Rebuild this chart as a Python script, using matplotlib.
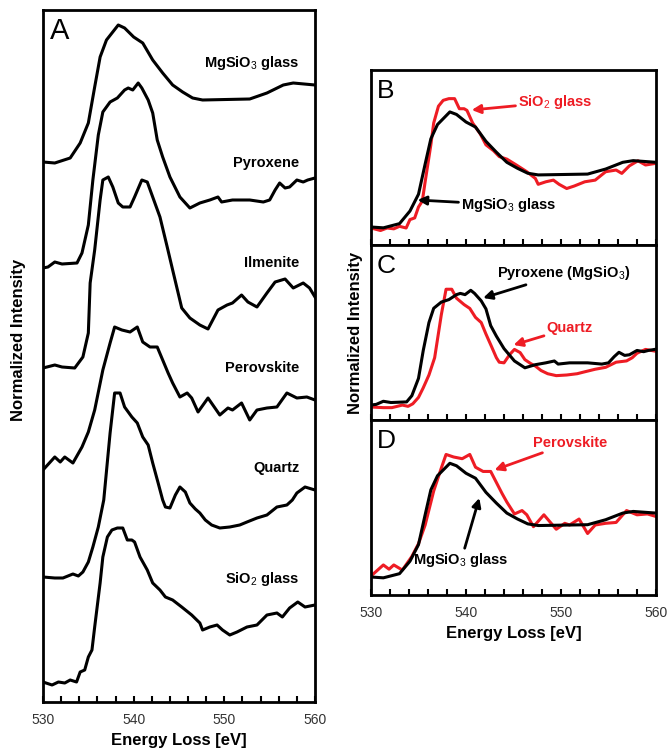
import matplotlib
matplotlib.use("Agg")
import matplotlib.pyplot as plt
from matplotlib.ticker import MultipleLocator

plt.rcParams['font.family'] = ['Liberation Sans', 'DejaVu Sans']
plt.rcParams['mathtext.fontset'] = 'custom'
plt.rcParams['mathtext.bf'] = 'Liberation Sans:bold'
plt.rcParams['mathtext.rm'] = 'Liberation Sans'

RED = '#ee1c24'

# O K-edge spectra (energy in eV, intensity in a.u. above pre-edge)
mgsio3_glass_e = [530.0, 531.3, 533.0, 534.1, 535.0, 535.7, 536.3, 537.0, 538.3, 539.0, 540.0, 541.0,
                  542.1, 543.2, 544.3, 545.4, 546.5, 547.6, 552.8, 554.7, 556.5, 557.6, 560.0]
mgsio3_glass_i = [0, -1, 4, 19, 39, 75, 105, 122, 137, 134, 125, 119,
                  102, 89, 77, 70, 64, 62, 63, 69, 77, 79, 77]

pyroxene_e = [530.0, 530.55, 531.3, 532.1, 533.75, 534.3, 535.0, 535.5, 536.1, 536.6, 537.4, 538.2,
              539.0, 539.4, 539.9, 540.5, 540.9, 541.6, 542.1, 542.6, 543.2, 544.0, 545.1, 546.2,
              547.3, 548.4, 549.3, 549.7, 550.9, 552.8, 554.3, 555.0, 555.6, 556.1, 556.7, 557.2,
              558.0, 558.7, 559.2, 560.0]
pyroxene_i = [0, 1, 6, 4, 5, 15, 43, 88, 133, 156, 166, 170,
              178, 180, 178, 185, 180, 168, 155, 128, 111, 91, 71, 60,
              65, 68, 71, 66, 68, 68, 66, 68, 78, 85, 80, 81,
              88, 86, 88, 90]

ilmenite_e = [530.0, 531.3, 532.1, 533.5, 534.4, 535.0, 535.2, 535.7, 536.3, 536.6, 537.2, 537.7,
              538.3, 538.8, 539.6, 540.1, 540.9, 541.5, 542.1, 542.9, 543.7, 544.3, 545.3, 546.2,
              547.3, 548.2, 549.3, 550.3, 550.9, 551.9, 552.6, 553.6, 554.7, 555.6, 556.7, 557.6,
              558.7, 559.4, 560.0]
ilmenite_i = [0, 3, 1, 0, 11, 35, 85, 118, 168, 188, 191, 181,
              165, 161, 161, 171, 188, 186, 171, 151, 121, 98, 60, 50,
              43, 39, 58, 63, 65, 73, 66, 61, 75, 86, 89, 80,
              85, 80, 71]

perovskite_e = [530.0, 531.3, 531.9, 532.4, 533.3, 534.3, 535.0, 535.7, 536.6, 537.4, 537.9, 538.7,
                539.6, 540.4, 541.0, 541.8, 542.6, 543.2, 543.8, 544.3, 545.1, 545.9, 546.4, 547.1,
                548.2, 549.5, 550.4, 550.9, 551.9, 552.8, 553.6, 554.7, 555.8, 556.9, 558.0, 559.1,
                560.0]
perovskite_i = [0, 13, 8, 13, 7, 23, 38, 60, 100, 127, 143, 140,
                138, 143, 128, 123, 123, 110, 97, 87, 73, 77, 72, 58,
                72, 55, 62, 60, 67, 50, 60, 62, 63, 77, 72, 73,
                70]

quartz_e = [530.0, 531.3, 532.2, 533.3, 533.9, 534.4, 535.0, 535.5, 536.1, 536.7, 537.4, 537.9,
            538.5, 539.0, 539.8, 540.4, 541.0, 541.6, 542.1, 542.7, 543.2, 543.5, 544.0, 544.6,
            545.1, 545.7, 546.2, 546.8, 547.3, 547.9, 548.6, 549.5, 550.6, 551.7, 552.5, 553.6,
            554.7, 555.8, 556.9, 557.5, 558.0, 558.9, 560.0]
quartz_i = [0, -1, -1, 3, 1, 5, 15, 30, 50, 77, 144, 184,
            184, 170, 160, 154, 140, 132, 114, 94, 77, 70, 69, 82,
            90, 85, 74, 68, 64, 57, 52, 49, 50, 52, 55, 59,
            62, 70, 72, 77, 84, 90, 87]

sio2_glass_e = [530.0, 531.0, 531.7, 532.4, 533.0, 533.7, 534.1, 534.6, 535.0, 535.4, 535.7, 536.3,
                536.6, 537.1, 537.6, 538.2, 538.8, 539.3, 539.8, 540.1, 540.7, 541.5, 542.1, 542.9,
                543.5, 544.3, 545.3, 546.4, 547.3, 547.6, 548.4, 549.2, 549.8, 550.6, 551.4, 552.5,
                553.6, 554.7, 555.8, 556.4, 557.2, 558.1, 558.9, 560.0]
sio2_glass_i = [0, -3, 0, -1, 2, 0, 10, 12, 25, 32, 55, 99,
                125, 145, 152, 154, 154, 142, 142, 140, 125, 112, 99, 92,
                85, 82, 75, 67, 59, 52, 55, 57, 52, 47, 50, 55,
                57, 67, 69, 65, 74, 80, 75, 77]

names_a = ['MgSiO$_3$ glass', 'Pyroxene', 'Ilmenite', 'Perovskite', 'Quartz', 'SiO$_2$ glass']
spectra_a = [(mgsio3_glass_e, mgsio3_glass_i), (pyroxene_e, pyroxene_i), (ilmenite_e, ilmenite_i),
             (perovskite_e, perovskite_i), (quartz_e, quartz_i), (sio2_glass_e, sio2_glass_i)]
offsets_a = [540, 434, 334, 232, 125, 20]
label_y_a = [639, 539, 439, 334, 234, 123]


def style_axis(ax, labels=True):
    ax.set_xlim(530, 560)
    ax.xaxis.set_major_locator(MultipleLocator(10))
    ax.xaxis.set_minor_locator(MultipleLocator(2))
    ax.tick_params(axis='x', which='both', direction='in', length=4, width=1.5,
                   labelsize=10, pad=8, labelbottom=labels, labelcolor='#333333')
    ax.set_yticks([])
    for s in ax.spines.values():
        s.set_linewidth(2)


fig = plt.figure(figsize=(6.69, 7.52), dpi=100)

# panel A
axA = fig.add_axes([43 / 669, 50 / 752, 272 / 669, 692 / 752])
for (e, i), off in zip(spectra_a, offsets_a):
    axA.plot(e, [v + off for v in i], color='black', lw=2.2, solid_joinstyle='round')
for name, y in zip(names_a, label_y_a):
    axA.text(558.3, y, name, ha='right', va='center', fontsize=10.5, fontweight='bold')
axA.set_ylim(0, 692)
style_axis(axA)
axA.set_xlabel('Energy Loss [eV]', fontsize=12, fontweight='bold', labelpad=4)
axA.text(0.025, 0.99, 'A', transform=axA.transAxes, fontsize=21, va='top', ha='left')
fig.text(0.028, 0.548, 'Normalized Intensity', rotation=90, fontsize=12,
         fontweight='bold', ha='center', va='center')

# panels B, C, D
h = 175 / 752
axB = fig.add_axes([371 / 669, (752 - 245) / 752, 285 / 669, h])
axC = fig.add_axes([371 / 669, (752 - 420) / 752, 285 / 669, h])
axD = fig.add_axes([371 / 669, (752 - 595) / 752, 285 / 669, h])

panels = [
    (axB, 'B', (mgsio3_glass_e, mgsio3_glass_i, 0.84, 18), (sio2_glass_e, sio2_glass_i, 0.84, 17)),
    (axC, 'C', (pyroxene_e, pyroxene_i, 0.62, 15), (quartz_e, quartz_i, 0.64, 13)),
    (axD, 'D', (mgsio3_glass_e, mgsio3_glass_i, 0.83, 18), (perovskite_e, perovskite_i, 0.85, 19)),
]
for ax, letter, blk, red in panels:
    ax.plot(red[0], [v * red[2] + red[3] for v in red[1]], color=RED, lw=2.2)
    ax.plot(blk[0], [v * blk[2] + blk[3] for v in blk[1]], color='black', lw=2.2)
    ax.set_ylim(0, 175)
    style_axis(ax, labels=(ax is axD))
    ax.text(0.02, 0.95, letter, transform=ax.transAxes, fontsize=19, va='top', ha='left')

arrow_k = dict(arrowstyle='-|>', lw=2, color='black', mutation_scale=13, shrinkA=0, shrinkB=0)
arrow_r = dict(arrowstyle='-|>', lw=2, color=RED, mutation_scale=13, shrinkA=0, shrinkB=0)

axB.annotate('SiO$_2$ glass', xy=(540.6, 135), xytext=(545.5, 143), color=RED, fontsize=10.5,
             fontweight='bold', va='center', ha='left', arrowprops=arrow_r)
axB.annotate('MgSiO$_3$ glass', xy=(534.9, 45), xytext=(539.5, 40), fontsize=10.5,
             fontweight='bold', va='center', ha='left', arrowprops=arrow_k)
axC.annotate('Pyroxene (MgSiO$_3$)', xy=(541.8, 122), xytext=(543.3, 147), fontsize=10.5,
             fontweight='bold', va='center', ha='left', arrowprops=arrow_k)
axC.annotate('Quartz', xy=(545.0, 75), xytext=(548.5, 92), color=RED, fontsize=10.5,
             fontweight='bold', va='center', ha='left', arrowprops=arrow_r)
axD.annotate('Perovskite', xy=(543.0, 125), xytext=(547.0, 152), color=RED, fontsize=10.5,
             fontweight='bold', va='center', ha='left', arrowprops=arrow_r)
axD.annotate('MgSiO$_3$ glass', xy=(541.4, 97), xytext=(539.5, 35), fontsize=10.5,
             fontweight='bold', va='center', ha='center', arrowprops=arrow_k)
axD.set_xlabel('Energy Loss [eV]', fontsize=12, fontweight='bold', labelpad=4)
fig.text(0.531, 0.557, 'Normalized Intensity', rotation=90, fontsize=12,
         fontweight='bold', ha='center', va='center')

fig.savefig('out.png', dpi=100)
